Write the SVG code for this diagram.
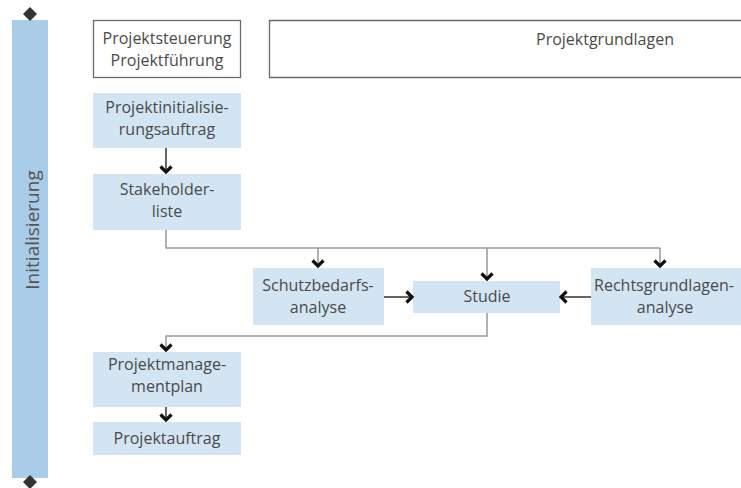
<svg xmlns="http://www.w3.org/2000/svg" width="741" height="488" viewBox="0 0 741 488">
<style>
.t{font-family:"Open Sans","Noto Sans",sans-serif;font-size:16px;fill:#4a4a4a;text-anchor:middle}
.b{fill:#d3e4f3}
.w{fill:#fff;stroke:#6a6a6a;stroke-width:1.3}
.c{fill:none;stroke:#999;stroke-width:1.5}
.d{fill:none;stroke:#333;stroke-width:1.5}
</style>
<defs>
<marker id="ah" viewBox="0 0 10 14" refX="8.5" refY="7" markerWidth="10" markerHeight="14" markerUnits="userSpaceOnUse" orient="auto">
<path d="M2,1.5 L7.5,7 L2,12.5" fill="none" stroke="#111" stroke-width="3.2"/>
</marker>
</defs>
<rect width="741" height="488" fill="#fff"/>
<g id="phase">
<rect x="12" y="20" width="36" height="458" fill="#a9cde9"/>
<path d="M30,7 L37,14 L30,21 L23,14 Z" fill="#333"/>
<path d="M30,475 L37,482 L30,489 L23,482 Z" fill="#333"/>
<text class="t" transform="translate(39,230) rotate(-90)" style="font-size:19px;fill:#555">Initialisierung</text>
</g>
<g id="steuerung">
<rect class="w" x="93.5" y="20.5" width="147" height="57"/>
<text class="t" x="167" y="44">Projektsteuerung</text>
<text class="t" x="167" y="66">Projektführung</text>
</g>
<g id="grundlagen">
<path class="w" d="M745,20.5 H269.5 V77.5 H745"/>
<text class="t" x="605" y="45">Projektgrundlagen</text>
</g>
<g id="initauftrag">
<rect class="b" x="93" y="93" width="148" height="55"/>
<text class="t" x="167" y="113">Projektinitialisie-</text>
<text class="t" x="167" y="135">rungsauftrag</text>
</g>
<g id="stakeholder">
<rect class="b" x="93" y="174" width="148" height="56"/>
<text class="t" x="167" y="195">Stakeholder-</text>
<text class="t" x="167" y="217">liste</text>
</g>
<g id="schutz">
<rect class="b" x="253" y="268" width="131" height="57"/>
<text class="t" x="318" y="291">Schutzbedarfs-</text>
<text class="t" x="318" y="313">analyse</text>
</g>
<g id="studie">
<rect class="b" x="413" y="281" width="147" height="32"/>
<text class="t" x="487" y="302">Studie</text>
</g>
<g id="recht">
<rect class="b" x="591" y="268" width="150" height="57"/>
<text class="t" x="664" y="291">Rechtsgrundlagen-</text>
<text class="t" x="665" y="313">analyse</text>
</g>
<g id="pmplan">
<rect class="b" x="93" y="352" width="148" height="55"/>
<text class="t" x="167" y="370">Projektmanage-</text>
<text class="t" x="167" y="392">mentplan</text>
</g>
<g id="auftrag">
<rect class="b" x="93" y="422" width="148" height="33"/>
<text class="t" x="167" y="444">Projektauftrag</text>
</g>
<g id="connectors">
<path class="d" d="M166,148 V173" marker-end="url(#ah)"/>
<path class="c" d="M166,230 V248 H660"/>
<path class="c" d="M318,248 V267" marker-end="url(#ah)"/>
<path class="c" d="M487,248 V280" marker-end="url(#ah)"/>
<path class="c" d="M660,248 V267" marker-end="url(#ah)"/>
<path class="d" d="M384,297 H413" marker-end="url(#ah)"/>
<path class="d" d="M591,297 H560" marker-end="url(#ah)"/>
<path class="c" d="M487,313 V336 H166 V351" marker-end="url(#ah)"/>
<path class="d" d="M166,407 V421" marker-end="url(#ah)"/>
</g>
</svg>
